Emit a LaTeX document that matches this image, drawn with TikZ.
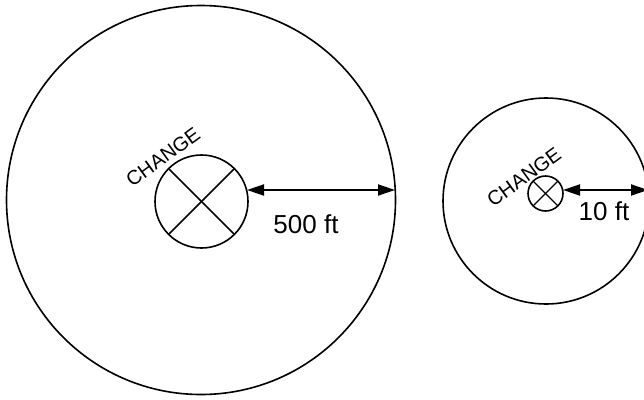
\documentclass[tikz,border=0pt]{standalone}
\usepackage{fontspec}
\setmainfont{Liberation Sans}
\usetikzlibrary{arrows.meta, calc}

\begin{document}
\begin{tikzpicture}[x=1pt, y=-1pt,
    % Define the style for the circles
    ring/.style={circle, draw, line width=1.6pt, inner sep=0pt, outer sep=0pt},
    % Define the style for the distance arrows
    span/.style={line width=1.9pt,
        {Triangle[length=17pt,width=11pt]}-{Triangle[length=17pt,width=11pt]}},
    tag/.style={font=\fontsize{20}{23}\selectfont, rotate=36, inner sep=0pt},
    dist/.style={font=\fontsize{26}{30}\selectfont, inner sep=0pt}
]

\clip (0,0) rectangle (644,399);

% Draw the circles
\node[ring, minimum size=389pt] (bigzone) at (201,200) {};
\node[ring, minimum size=93pt] (bighub) at (201.5,201.5) {};
\node[ring, minimum size=206pt] (smallzone) at (546,201) {};
\node[ring, minimum size=35pt] (smallhub) at (545.5,193.5) {};

% Draw the crosses
\draw[line width=1.6pt] (bighub.north west) -- (bighub.south east);
\draw[line width=1.6pt] (bighub.north east) -- (bighub.south west);
\draw[line width=1.3pt] (smallhub.north west) -- (smallhub.south east);
\draw[line width=1.3pt] (smallhub.north east) -- (smallhub.south west);

% Define the ends of the arrows
\coordinate (bigin) at (247,190);
\coordinate (bigout) at (395,190);
\coordinate (smallin) at (563,190);
\coordinate (smallout) at (648,190);

% Draw the arrows
\draw[span] (bigin) -- (bigout);
\draw[span] (smallin) -- (smallout);

% Add the labels
\node[tag] (bigtag) at (163,157) {CHANGE};
\node[tag] (smalltag) at (524,177) {CHANGE};
\node[dist] (bigdist) at (306,224) {500 ft};
\node[dist] (smalldist) at (604,211) {10 ft};

\end{tikzpicture}
\end{document}
